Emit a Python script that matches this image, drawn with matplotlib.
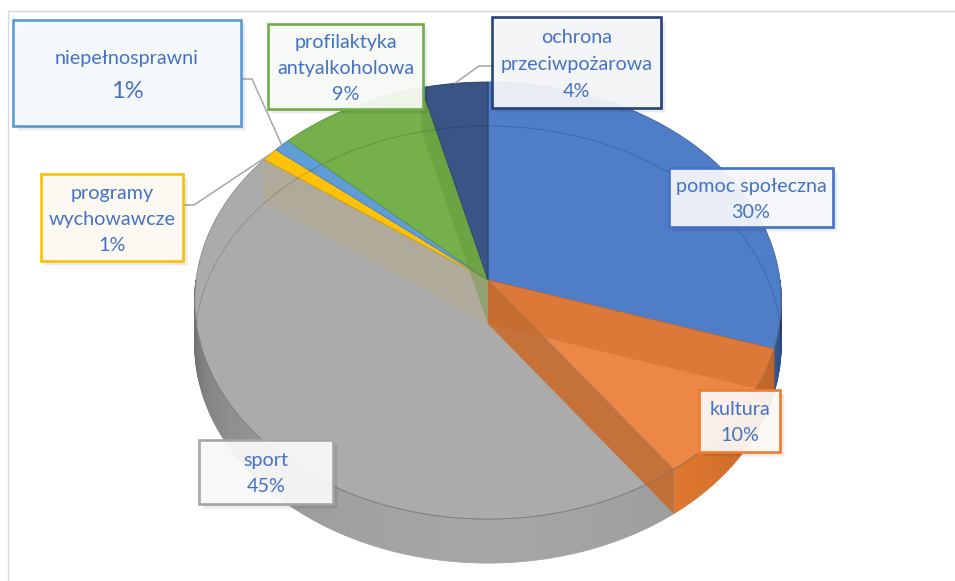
import numpy as np
import matplotlib
matplotlib.use("Agg")
import matplotlib.pyplot as plt
from matplotlib.patches import Polygon, Rectangle
from matplotlib.colors import to_rgb

plt.rcParams['font.family'] = ['Lato', 'DejaVu Sans']

# ---------------- data ----------------
categories = ['pomoc społeczna', 'kultura', 'sport', 'programy wychowawcze',
              'niepełnosprawni', 'profilaktyka antyalkoholowa', 'ochrona przeciwpożarowa']
values = [30, 10, 45, 1, 1, 9, 4]

# ---------------- styles ----------------
colors = ['#4472C4', '#ED7D31', '#A5A5A5', '#FFC000', '#5B9BD5', '#70AD47', '#264478']
top_colors = ['#4F7DC8', '#EC8746', '#ABABAB', '#FFC20A', '#5E9DD6', '#76B04A', '#395585']
front_wall_alpha = [0.0, 0.88, 0.0, 0.10, 0.0, 0.0, 0.0]   # walls facing the viewer
back_wall_alpha = [0.0, 0.45, 0.0, 0.0, 0.0, 0.40, 0.0]    # own far walls seen through top
TEXT_COLOR = '#4472C4'

# ---------------- layout (pixels) ----------------
W, H = 955, 581
CX, CY = 488, 280          # pie vertex (top face)
RX, RY, K = 292, 216.6, 0.094
DEPTH = 44

# label boxes: (x0, y0, x1, y1), wrapped?, name size, pct size, line gap, leader (start, elbow)
label_layout = {
    'pomoc społeczna': ((669, 168, 833, 227), False, 14.2, 14.2, 26, None),
    'kultura': ((699, 390, 780, 452), False, 14.2, 14.2, 26, None),
    'sport': ((199, 440, 333, 504), False, 14.2, 14.2, 26, None),
    'programy wychowawcze': ((41, 174, 183, 261), True, 14.2, 14.2, 26, ((183, 205), (194, 205))),
    'niepełnosprawni': ((13, 20, 241, 126), False, 14.2, 17, 33, ((241, 79), (252, 79))),
    'profilaktyka antyalkoholowa': ((268, 24, 423, 109), True, 14.2, 14.2, 26, None),
    'ochrona przeciwpożarowa': ((492, 17, 661, 108), True, 14.2, 14.2, 27, ((492, 66), (479, 66))),
}


def proj(theta_deg, z=0.0, r=1.0):
    t = np.radians(theta_deg)
    u, v = r * np.cos(t), r * np.sin(t)
    w = 1 + K * v
    return (CX + RX * u / w, CY - RY * v / w + z)


def shade(c, f):
    return tuple(np.clip(np.array(to_rgb(c)) * f, 0, 1))


def mix(c, f):  # blend colour c with white, weight f for colour
    return tuple(np.array(to_rgb(c)) * f + (1 - f))


def wall_shade(tm):
    s = max(0.0, -np.sin(np.radians(tm)))
    return 0.50 + 0.50 * s ** 0.55


fig = plt.figure(figsize=(W / 100, H / 100), dpi=100)
ax = fig.add_axes([0, 0, 1, 1])
ax.set_xlim(0, W)
ax.set_ylim(H, 0)
ax.axis('off')

# chart area border
ax.add_patch(Rectangle((8, 11), 960, 600, fill=False, ec='#D9D9D9', lw=1.0, zorder=0))

# slice angle ranges (clockwise from 12 o'clock)
total = float(sum(values))
cum = np.concatenate([[0], np.cumsum(values)])
ranges = []
for i in range(len(values)):
    hi = 90 - 360 * cum[i] / total
    lo = 90 - 360 * cum[i + 1] / total
    ranges.append((lo, hi))

# front outer walls
for i, (lo, hi) in enumerate(ranges):
    a, b = max(lo, -180), min(hi, 0)
    if a >= b:
        continue
    ts = np.linspace(a, b, int((b - a) / 1.0) + 2)
    for t0, t1 in zip(ts[:-1], ts[1:]):
        f = wall_shade((t0 + t1) / 2)
        c = shade(colors[i], f)
        pts = [proj(t0), proj(t1), proj(t1, DEPTH), proj(t0, DEPTH)]
        ax.add_patch(Polygon(pts, closed=True, fc=c, ec=c, lw=0.6, zorder=1))

# top faces
for i, (lo, hi) in enumerate(ranges):
    ts = np.linspace(lo, hi, max(3, int((hi - lo) * 2)))
    pts = [(CX, CY)] + [proj(t) for t in ts]
    ax.add_patch(Polygon(pts, closed=True, fc=top_colors[i], ec=shade(colors[i], 0.85),
                         lw=0.6, zorder=2))


def radial_wall(phi, color, alpha, z):
    pts = [(CX, CY), proj(phi), proj(phi, DEPTH), (CX, CY + DEPTH)]
    ax.add_patch(Polygon(pts, closed=True, fc=color, ec='none', alpha=alpha, zorder=z))


# radial walls seen through the translucent faces
for i, (lo, hi) in enumerate(ranges):
    for phi, nrm in ((lo, lo - 90), (hi, hi + 90)):
        facing = np.sin(np.radians(nrm))
        if facing > 1e-6 and back_wall_alpha[i] > 0:
            radial_wall(phi, shade(colors[i], 0.85), back_wall_alpha[i], 3)
for i, (lo, hi) in enumerate(ranges):
    for phi, nrm in ((lo, lo - 90), (hi, hi + 90)):
        facing = np.sin(np.radians(nrm))
        if facing < -1e-6 and front_wall_alpha[i] > 0:
            radial_wall(phi, shade(colors[i], 0.85), front_wall_alpha[i], 3.2)

# faint far outline of the bottom face
tb = np.linspace(0, 180, 200)
bp = np.array([proj(t, DEPTH) for t in tb])
ax.plot(bp[:, 0], bp[:, 1], color='black', alpha=0.15, lw=0.8, zorder=3.5)
# front top edge
tf = np.linspace(-180, 0, 200)
fp = np.array([proj(t) for t in tf])
ax.plot(fp[:, 0], fp[:, 1], color='#707070', alpha=0.45, lw=0.8, zorder=3.5)

# labels
for i, name in enumerate(categories):
    (x0, y0, x1, y1), wrap, fs_name, fs_pct, gap, leader = label_layout[name]
    w, h = x1 - x0, y1 - y0
    if leader is not None:
        lo, hi = ranges[i]
        px, py = proj((lo + hi) / 2)
        (sx, sy), (ex, ey) = leader
        ax.plot([sx, ex, px], [sy, ey, py], color='#A6A6A6', lw=1.1, zorder=4.5,
                solid_capstyle='butt')
    for off, a in ((2, 0.06), (3.5, 0.05), (5, 0.03)):
        ax.add_patch(Rectangle((x0 + off, y0 + off), w, h, fc='black', ec='none',
                               alpha=a, zorder=5))
    ax.add_patch(Rectangle((x0, y0), w, h, fc=mix(colors[i], 0.04), ec='none',
                           alpha=0.93, zorder=6))
    ax.add_patch(Rectangle((x0, y0), w, h, fill=False, ec=colors[i], lw=1.9, zorder=7))
    name_lines = name.split(' ') if wrap else [name]
    lines = [(s, fs_name) for s in name_lines] + [(f"{values[i]:.0f}%", fs_pct)]
    cy = (y0 + y1) / 2
    n = len(lines)
    for k, (s, fs) in enumerate(lines):
        yc = cy + (k - (n - 1) / 2) * gap
        em = fs * 100 / 72
        ax.text((x0 + x1) / 2, yc + 0.36 * em, s, ha='center', va='baseline',
                fontsize=fs, color=TEXT_COLOR, zorder=8)

fig.savefig('out.png', dpi=100)
